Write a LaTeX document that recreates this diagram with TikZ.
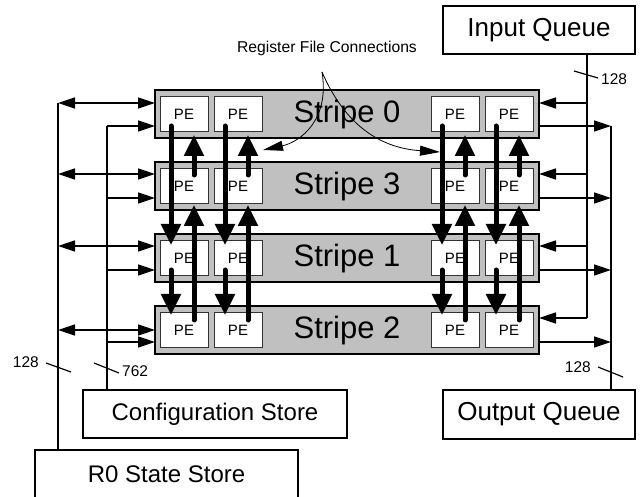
\documentclass[tikz,border=0pt]{standalone}
\usepackage{fontspec}
\setmainfont{Liberation Sans}
\usetikzlibrary{arrows.meta,calc}
\definecolor{stripegray}{HTML}{C0C0C0}
\begin{document}
\begin{tikzpicture}[x=1pt,y=-1pt,
  stripebox/.style={draw=black, line width=1.8pt, fill=stripegray, minimum width=384pt, minimum height=48pt, inner sep=0pt, outer sep=0pt, anchor=north west, font=\fontsize{31}{35}\selectfont},
  pebox/.style={draw=black!80, line width=1pt, fill=white, minimum width=48pt, minimum height=35pt, inner sep=0pt, outer sep=0pt, anchor=north west, font=\fontsize{15}{17}\selectfont},
  storebox/.style={draw=black, line width=1.4pt, fill=white, inner sep=0pt, outer sep=0pt, anchor=north west},
  busline/.style={line width=1.5pt},
  arr/.style={line width=1.5pt, -{Triangle[length=17pt,width=11pt]}},
  dblarr/.style={line width=1.5pt, {Triangle[length=17pt,width=11pt]}-{Triangle[length=17pt,width=11pt]}},
  bigarrow/.style={line width=5pt, line cap=round, -{Triangle[length=21pt,width=19pt]}},
  curvearr/.style={line width=0.8pt, -{Triangle[length=20pt,width=10pt]}},
  slash/.style={line width=1.2pt},
  buslabel/.style={inner sep=0pt, font=\fontsize{15.5}{18}\selectfont}
]
\useasboundingbox (0,0) rectangle (641,497);

% stores and queues
\node[storebox, minimum width=192pt, minimum height=48pt, font=\fontsize{26}{30}\selectfont] (iq) at (443,6) {Input Queue};
\node[storebox, minimum width=192pt, minimum height=49pt, font=\fontsize{26}{30}\selectfont] (oq) at (443,390) {Output Queue};
\node[storebox, minimum width=264pt, minimum height=48pt, font=\fontsize{24}{28}\selectfont] (cs) at (83,390) {Configuration Store};
\node[storebox, minimum width=263pt, minimum height=60pt, font=\fontsize{24}{28}\selectfont, text depth=0pt] (rs) at (35,450) {\raisebox{11pt}{R0 State Store}};

% bus coordinates
\coordinate (lbus) at (58,103);
\coordinate (cbus) at (107,126);
\coordinate (ibus) at (587,318);
\coordinate (obus) at (611,126);

\draw[busline] (lbus) -- (lbus |- rs.north);
\draw[busline] (cbus) -- (cbus |- cs.north);
\draw[busline] (ibus |- iq.south) -- (ibus);
\draw[busline] (obus) -- (obus |- oq.north);

% stripes and PEs
\foreach \s/\T in {0/90,3/162,1/234,2/306} {
  \node[stripebox] (s\s) at (155,\T) {Stripe \s};
  \foreach \c/\L in {1/160,2/214,3/431,4/485}
    \node[pebox] (p\s-\c) at (\L,\T+7) {PE};
}

% horizontal connections
\foreach \s/\a/\r in {0/13/13,3/12/12,1/12/12,2/24/12} {
  \coordinate (L\s) at ($(s\s.north west)+(0,\a)$);
  \coordinate (C\s) at ($(s\s.north west)+(0,36)$);
  \coordinate (I\s) at ($(s\s.north east)+(0,\r)$);
  \coordinate (O\s) at ($(s\s.north east)+(0,36)$);
  \draw[dblarr] (L\s -| lbus) -- (L\s);
  \draw[arr] (C\s -| cbus) -- (C\s);
  \draw[arr] (I\s -| ibus) -- (I\s);
  \draw[arr] (O\s) -- (O\s -| obus);
}

% stripe-to-stripe PE connections
\foreach \c in {1,...,4} {
  \draw[bigarrow] ($(p0-\c.south west)+(11,-6)$) -- ($(p1-\c.north west)+(11,4)$);
  \draw[bigarrow] ($(p1-\c.south west)+(11,-6)$) -- ($(p2-\c.north west)+(11,2)$);
  \draw[bigarrow] ($(p2-\c.north west)+(34,7)$) -- ($(p3-\c.south west)+(34,1)$);
  \draw[bigarrow] ($(p3-\c.north west)+(34,6)$) -- ($(p0-\c.south west)+(34,3)$);
}

% bus widths
\draw[slash] (574,71) -- (598,78);
\node[buslabel, anchor=west] (w1) at (601,79) {128};
\draw[slash] (46,363) -- (71,372);
\node[buslabel, anchor=east] (w2) at (39,362) {128};
\draw[slash] (94,363) -- (119,373);
\node[buslabel, anchor=west] (w3) at (122,371) {762};
\draw[slash] (598,367) -- (623,377);
\node[buslabel, anchor=east] (w4) at (591,367) {128};

% register file connections
\node[font=\fontsize{15.7}{18}\selectfont, inner sep=0pt] (rf) at (327,48) {Register File Connections};
\coordinate (rfc) at (322,72);
\draw[curvearr] (rfc) .. controls (330,120) and (300,142) .. ($(p0-2.south west)+(49,18)$);
\draw[curvearr] (rfc) .. controls (345,125) and (380,148) .. ($(p0-3.south west)+(9,20)$);
\end{tikzpicture}
\end{document}
